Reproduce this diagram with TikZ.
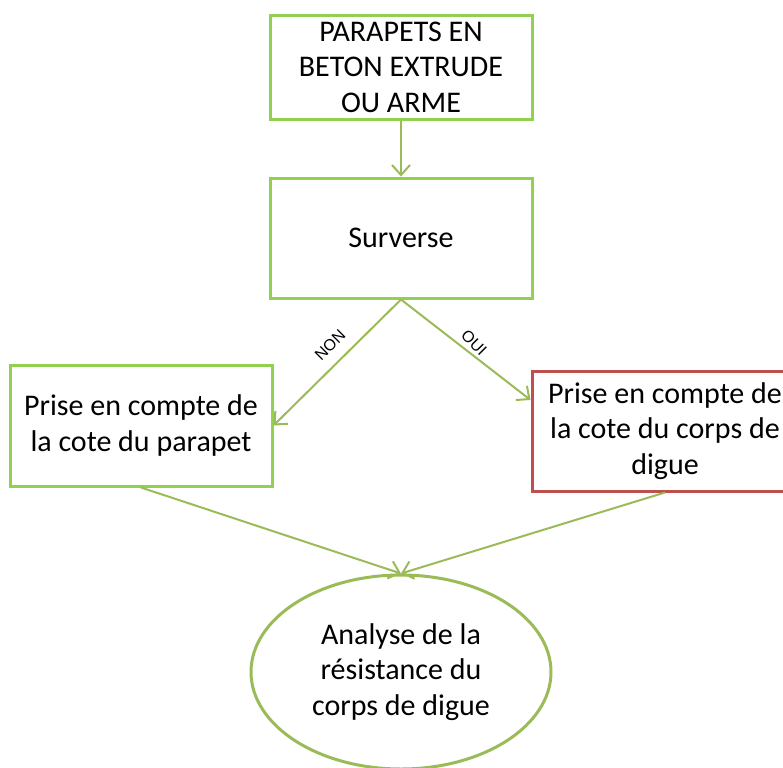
\documentclass[tikz,border=0pt]{standalone}
\usepackage{fontspec}
\setmainfont{Carlito}
\newfontfamily\labelfont{Liberation Sans}
\usetikzlibrary{arrows.meta,shapes.geometric}
\definecolor{vert}{RGB}{146,208,80}
\definecolor{lien}{RGB}{155,187,89}
\definecolor{rouge}{RGB}{192,80,77}
\begin{document}
\begin{tikzpicture}[x=0.5pt,y=-0.5pt,
    font=\fontsize{15}{17.7}\selectfont,
    >={Straight Barb[length=5pt,width=9pt]},
    box/.style={draw=vert,line width=1.5pt,fill=white,align=center,
      minimum width=131pt,inner sep=2pt},
    redbox/.style={box,draw=rouge},
    ell/.style={ellipse,draw=lien,line width=1.5pt,align=center,
      minimum width=150pt,minimum height=97pt},
    link/.style={draw=lien,line width=1pt,->},
    tag/.style={font=\labelfont\fontsize{8}{9}\selectfont,inner sep=1pt}]
  \useasboundingbox (0,0) rectangle (783,767);
  % 方框
  \node[box,minimum height=52pt] (para) at (401,67)
    {PARAPETS EN\\BETON EXTRUDE\\OU ARME};
  \node[box,minimum height=60pt] (surv) at (401,238) {Surverse};
  \node[box,minimum height=60.5pt] (non) at (141,425.5)
    {Prise en compte de\\la cote du parapet};
  \node[redbox,minimum width=133pt,minimum height=60pt] (oui) at (665,431)
    {Prise en compte de\\la cote du corps de\\digue};
  % 椭圆
  \node[ell] (ana) at (401,672)
    {Analyse de la\\résistance du\\corps de digue};
  % 连线
  \draw[link] (para.south) -- (surv.north);
  \draw[link] (surv.south) -- (non.east);
  \draw[link] (surv.south) -- (oui.167);
  \draw[link] (non.south) -- (ana.north);
  \draw[link] (oui.south) -- (ana.north);
  % 标注
  \node[tag,rotate=45] (lnon) at (330,345) {NON};
  \node[tag,rotate=-45] (loui) at (474,343) {OUI};
\end{tikzpicture}
\end{document}
